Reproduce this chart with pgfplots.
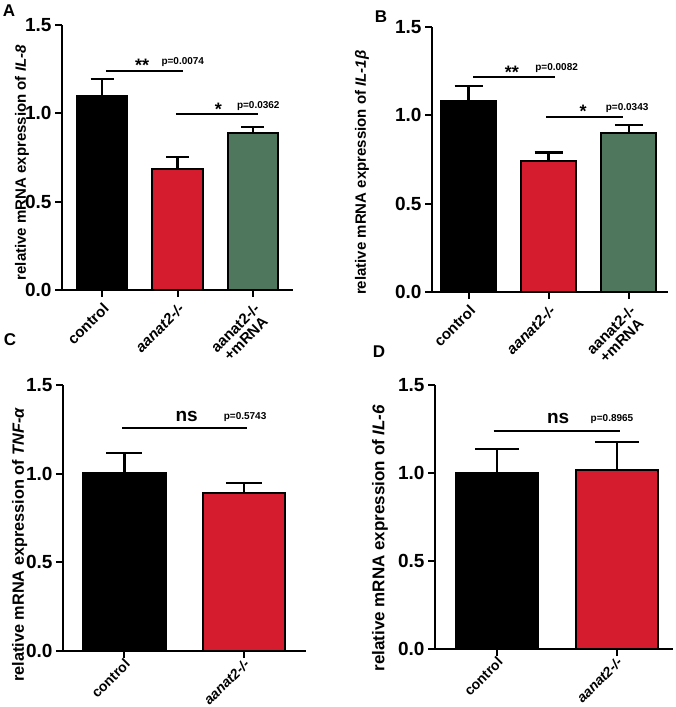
\documentclass[border=0pt]{standalone}
\usepackage{fontspec}
\setmainfont{Liberation Sans}
\usepackage{pgfplots}
\pgfplotsset{compat=1.18}
\definecolor{barred}{RGB}{213,28,46}
\definecolor{bargreen}{RGB}{78,119,94}

\pgfplotsset{
  panel/.style={
    scale only axis, anchor=south west,
    axis lines*=left, axis line style={line width=2.5pt},
    ymin=0, ymax=1.5, ytick={0,0.5,1,1.5},
    enlargelimits=false, clip=false,
    tick align=outside, major tick length=7pt,
    major tick style={black, line width=2pt},
    yticklabel style={font=\fontsize{19}{19}\selectfont\bfseries,
      /pgf/number format/.cd, fixed, fixed zerofill, precision=1, assume math mode=true},
    xticklabel style={font=\fontsize{15}{15}\selectfont\bfseries, rotate=45,
      anchor=north east, align=center},
    xtick={0,1,2},
  },
  bar/.style={ybar, bar shift=0pt, bar width=#1, draw=black, line width=2pt},
  errb/.style={error bars/.cd, y dir=plus, y explicit, error mark=|,
    error bar style={line width=2.5pt, black},
    error mark options={mark size=#1, line width=2.5pt, black}},
}
\tikzset{
  sig/.style={font=\fontsize{18}{18}\selectfont\bfseries},
  pval/.style={font=\fontsize{10}{10}\selectfont\bfseries},
}

\begin{document}
\begin{tikzpicture}[x=1pt, y=1pt]
\path[use as bounding box] (0,0) rectangle (675,707);

% panel letters
\node[font=\fontsize{17}{17}\selectfont\bfseries] at (9,696) {A};
\node[font=\fontsize{17}{17}\selectfont\bfseries] at (381,690) {B};
\node[font=\fontsize{17}{17}\selectfont\bfseries] at (10,367) {C};
\node[font=\fontsize{17}{17}\selectfont\bfseries] at (379,355) {D};

% A: IL-8
\begin{axis}[panel, at={(62pt,417pt)}, width=231pt, height=265pt,
  xmin=-0.53, xmax=2.53,
  xticklabels={control, \textit{aanat2-/-}, {aanat2-/-\\+mRNA}},
  ylabel={relative mRNA expression of \textit{IL-8}},
  ylabel style={at={(axis description cs:-0.173,0.48)}, anchor=center,
    font=\fontsize{15}{15}\selectfont\bfseries}]
\addplot[bar=0.675, fill=black, errb=11.5pt] coordinates {(0,1.098) +- (0,0.096)};
\addplot[bar=0.675, fill=barred, errb=11.5pt] coordinates {(1,0.685) +- (0,0.068)};
\addplot[bar=0.675, fill=bargreen, errb=11.5pt] coordinates {(2,0.889) +- (0,0.034)};
\draw[line width=2pt] (axis cs:0.05,1.24) -- (axis cs:1.07,1.24);
\draw[line width=2pt] (axis cs:0.98,0.996) -- (axis cs:2.07,0.996);
\node[sig] at (axis cs:0.53,1.27) {**};
\node[pval] at (axis cs:1.07,1.29) {p=0.0074};
\node[sig] at (axis cs:1.54,1.025) {*};
\node[pval] at (axis cs:2.07,1.04) {p=0.0362};
\end{axis}

% B: IL-1beta
\begin{axis}[panel, at={(432pt,415pt)}, width=236pt, height=265pt,
  xmin=-0.456, xmax=2.49,
  xticklabels={control, \textit{aanat2-/-}, {aanat2-/-\\+mRNA}},
  ylabel={relative mRNA expression of \textit{IL-1β}},
  ylabel style={at={(axis description cs:-0.297,0.45)}, anchor=center,
    font=\fontsize{15}{15}\selectfont\bfseries}]
\addplot[bar=0.69, fill=black, errb=14pt] coordinates {(0,1.081) +- (0,0.085)};
\addplot[bar=0.69, fill=barred, errb=14pt] coordinates {(1,0.742) +- (0,0.048)};
\addplot[bar=0.69, fill=bargreen, errb=14pt] coordinates {(2,0.900) +- (0,0.045)};
\draw[line width=2pt] (axis cs:0.06,1.217) -- (axis cs:1.08,1.217);
\draw[line width=2pt] (axis cs:0.97,0.99) -- (axis cs:1.93,0.99);
\node[sig] at (axis cs:0.54,1.245) {**};
\node[pval] at (axis cs:1.1,1.27) {p=0.0082};
\node[sig] at (axis cs:1.43,1.02) {*};
\node[pval] at (axis cs:1.98,1.04) {p=0.0343};
\end{axis}

% C: TNF-alpha
\begin{axis}[panel, at={(63pt,56pt)}, width=243pt, height=266pt,
  xmin=-0.515, xmax=1.52,
  xticklabel style={font=\fontsize{14}{14}\selectfont\bfseries, xshift=3pt, yshift=4pt},
  xticklabels={control, \textit{aanat2-/-}},
  ylabel={relative mRNA expression of \textit{TNF-α}},
  ylabel style={at={(axis description cs:-0.178,0.40)}, anchor=center,
    font=\fontsize{16.3}{16.3}\selectfont\bfseries}]
\addplot[bar=0.69, fill=black, errb=18pt] coordinates {(0,1.004) +- (0,0.113)};
\addplot[bar=0.69, fill=barred, errb=18pt] coordinates {(1,0.891) +- (0,0.056)};
\draw[line width=2pt] (axis cs:-0.02,1.258) -- (axis cs:1.03,1.258);
\node[font=\fontsize{19}{19}\selectfont\bfseries] at (axis cs:0.52,1.325) {ns};
\node[pval] at (axis cs:1.01,1.32) {p=0.5743};
\end{axis}

% D: IL-6
\begin{axis}[panel, at={(435pt,58pt)}, width=238pt, height=264pt,
  xmin=-0.52, xmax=1.47,
  xticklabel style={font=\fontsize{14}{14}\selectfont\bfseries, xshift=3pt, yshift=4pt},
  xticklabels={control, \textit{aanat2-/-}},
  ylabel={relative mRNA expression of \textit{IL-6}},
  ylabel style={at={(axis description cs:-0.231,0.42)}, anchor=center,
    font=\fontsize{17}{17}\selectfont\bfseries}]
\addplot[bar=0.69, fill=black, errb=22pt] coordinates {(0,1.0) +- (0,0.136)};
\addplot[bar=0.69, fill=barred, errb=22pt] coordinates {(1,1.017) +- (0,0.159)};
\draw[line width=2pt] (axis cs:-0.03,1.239) -- (axis cs:1.03,1.239);
\node[font=\fontsize{19}{19}\selectfont\bfseries] at (axis cs:0.51,1.307) {ns};
\node[pval] at (axis cs:0.96,1.307) {p=0.8965};
\end{axis}
\end{tikzpicture}
\end{document}
